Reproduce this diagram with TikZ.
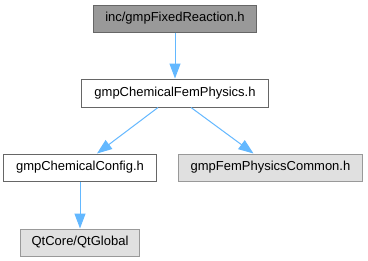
\documentclass[tikz,border=0pt]{standalone}
\usepackage{fontspec}
\setmainfont{Liberation Sans}
\usetikzlibrary{arrows.meta}
\definecolor{edgeblue}{RGB}{99,184,255}
\definecolor{darkfill}{RGB}{153,153,153}
\definecolor{darkborder}{RGB}{102,102,102}
\definecolor{lightfill}{RGB}{224,224,224}
\definecolor{lightborder}{RGB}{153,153,153}
\begin{document}
\begin{tikzpicture}[x=1bp,y=-1bp,
  box/.style={draw=darkborder,line width=1bp,inner sep=0pt,minimum height=27bp,font=\fontsize{13bp}{15bp}\selectfont,text=black},
  mainbox/.style={box,fill=darkfill},
  whitebox/.style={box,fill=white},
  greybox/.style={box,fill=lightfill,draw=lightborder},
  edge/.style={draw=edgeblue,line width=1bp,-{Triangle[length=15bp,width=11bp]}}]
\useasboundingbox[fill=white] (0,0) rectangle (368,261);
\node[mainbox,minimum width=163bp] (n1) at (175,18.5) {inc/gmpFixedReaction.h};
\node[whitebox,minimum width=186bp,minimum height=28bp] (n2) at (175,93) {gmpChemicalFemPhysics.h};
\node[whitebox,minimum width=152bp] (n3) at (80,167.5) {gmpChemicalConfig.h};
\node[greybox,minimum width=183bp] (n4) at (270.5,167.5) {gmpFemPhysicsCommon.h};
\node[greybox,minimum width=118bp] (n5) at (80,242.5) {QtCore/QtGlobal};
\draw[edge] (n1.south) -- (n2.north);
\draw[edge] ([xshift=-17bp]n2.south) -- ([xshift=17bp]n3.north);
\draw[edge] ([xshift=16bp]n2.south) -- ([xshift=-17bp]n4.north);
\draw[edge] (n3.south) -- (n5.north);
\end{tikzpicture}
\end{document}
